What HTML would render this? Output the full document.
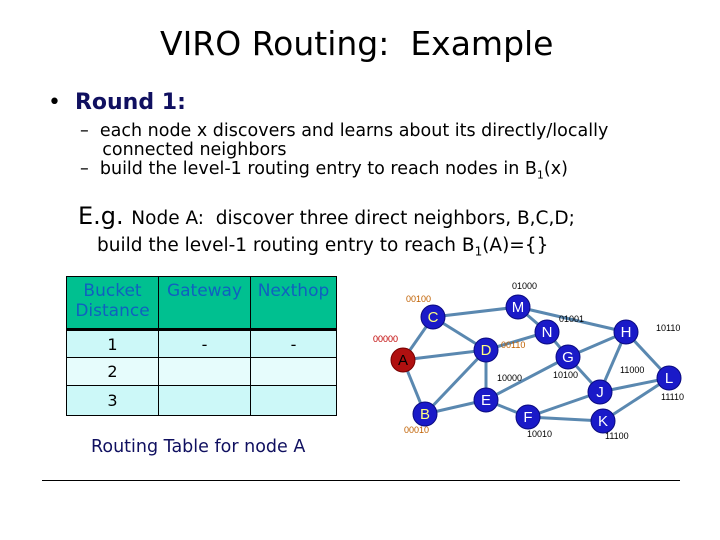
<!DOCTYPE html>
<html><head><meta charset="utf-8"><style>
body{margin:0;width:720px;height:540px;background:#fff;position:relative;overflow:hidden;font-family:"DejaVu Sans","Liberation Sans",sans-serif;}
.t{position:absolute;white-space:nowrap;color:#000;}
table{position:absolute;left:66px;top:276px;border-collapse:collapse;width:271px;}
td{border:1px solid #000;text-align:center;font-size:16px;padding:0;}
th{background:#00c090;color:#1060c0;font-weight:normal;font-size:17px;border:1px solid #000;border-bottom:3px solid #000;height:46px;vertical-align:top;line-height:20px;padding-top:4px;}
</style></head><body>
<div class="t" style="left:160px;top:24px;font-size:33px;">VIRO Routing:&nbsp; Example</div>
<div class="t" style="left:48px;top:90px;font-size:22px;">•&nbsp; <b style="color:#101060">Round 1:</b></div>
<div class="t" style="left:80px;top:122px;font-size:17.5px;line-height:19px;">–&nbsp; each node x discovers and learns about its directly/locally<br>&nbsp;&nbsp;&nbsp;&nbsp;connected neighbors<br>–&nbsp; build the level-1 routing entry to reach nodes in B<sub style="font-size:11px">1</sub>(x)</div>
<div class="t" style="left:78px;top:202px;font-size:24px;">E.g. <span style="font-size:18.5px">Node A: &nbsp;discover three direct neighbors, B,C,D;</span></div>
<div class="t" style="left:97px;top:235px;font-size:18.5px;">build the level-1 routing entry to reach B<sub style="font-size:12px">1</sub>(A)={}</div>
<table>
<tr><th style="width:89px">Bucket<br>Distance</th><th style="width:89px">Gateway</th><th>Nexthop</th></tr>
<tr style="height:28px;background:#ccf8f8"><td>1</td><td>-</td><td>-</td></tr>
<tr style="height:28px;background:#e6fcfc"><td>2</td><td></td><td></td></tr>
<tr style="height:30px;background:#ccf8f8"><td>3</td><td></td><td></td></tr>
</table>
<div class="t" style="left:91px;top:437px;font-size:17.5px;color:#101060;">Routing Table for node A</div>
<div style="position:absolute;left:42px;top:480px;width:638px;height:1px;background:#000"></div>
<svg width="720" height="540" style="position:absolute;left:0;top:0" font-family="Liberation Sans,sans-serif">
<g stroke="#5a88b0" stroke-width="3">
<line x1="403" y1="360" x2="433" y2="317"/><line x1="403" y1="360" x2="486" y2="350"/><line x1="403" y1="360" x2="425" y2="414"/>
<line x1="433" y1="317" x2="518" y2="307"/><line x1="433" y1="317" x2="486" y2="350"/><line x1="518" y1="307" x2="547" y2="332"/>
<line x1="518" y1="307" x2="626" y2="332"/><line x1="547" y1="332" x2="568" y2="357"/><line x1="486" y1="350" x2="547" y2="332"/>
<line x1="486" y1="350" x2="486" y2="400"/><line x1="486" y1="350" x2="425" y2="414"/><line x1="425" y1="414" x2="486" y2="400"/>
<line x1="486" y1="400" x2="568" y2="357"/><line x1="486" y1="400" x2="528" y2="417"/><line x1="568" y1="357" x2="626" y2="332"/>
<line x1="568" y1="357" x2="600" y2="392"/><line x1="626" y1="332" x2="600" y2="392"/><line x1="626" y1="332" x2="669" y2="378"/>
<line x1="600" y1="392" x2="669" y2="378"/><line x1="600" y1="392" x2="528" y2="417"/><line x1="528" y1="417" x2="603" y2="421"/>
<line x1="603" y1="421" x2="669" y2="378"/>
</g>
<g fill="#1a1ac8" stroke="#0a0a80" stroke-width="1">
<circle cx="518" cy="307" r="12"/><circle cx="433" cy="317" r="12"/><circle cx="547" cy="332" r="12"/><circle cx="626" cy="332" r="12"/>
<circle cx="486" cy="350" r="12"/><circle cx="568" cy="357" r="12"/><circle cx="669" cy="378" r="12"/><circle cx="600" cy="392" r="12"/>
<circle cx="486" cy="400" r="12"/><circle cx="425" cy="414" r="12"/><circle cx="528" cy="417" r="12"/><circle cx="603" cy="421" r="12"/>
<circle cx="403" cy="360" r="12" fill="#b01010" stroke="#700"/>
</g>
<g font-size="15" text-anchor="middle" fill="#fff">
<text x="518" y="312">M</text><text x="433" y="322" fill="#ffff80">C</text><text x="547" y="337">N</text><text x="626" y="337">H</text>
<text x="486" y="355" fill="#ffff80">D</text><text x="568" y="362">G</text><text x="669" y="383">L</text><text x="600" y="397">J</text>
<text x="486" y="405">E</text><text x="425" y="419" fill="#ffff80">B</text><text x="528" y="422">F</text><text x="603" y="426">K</text>
<text x="403" y="365" fill="#000">A</text>
</g>
<g font-size="9" fill="#000">
<text x="512" y="289">01000</text><text x="559" y="322">01001</text><text x="656" y="331">10110</text>
<text x="497" y="381">10000</text><text x="553" y="378">10100</text><text x="620" y="373">11000</text>
<text x="661" y="400">11110</text><text x="527" y="437">10010</text><text x="605" y="439">11100</text>
<text x="406" y="302" fill="#c06000">00100</text><text x="501" y="348" fill="#c06000">00110</text>
<text x="404" y="433" fill="#c06000">00010</text><text x="373" y="342" fill="#c00000">00000</text>
</g>
</svg>
</body></html>
